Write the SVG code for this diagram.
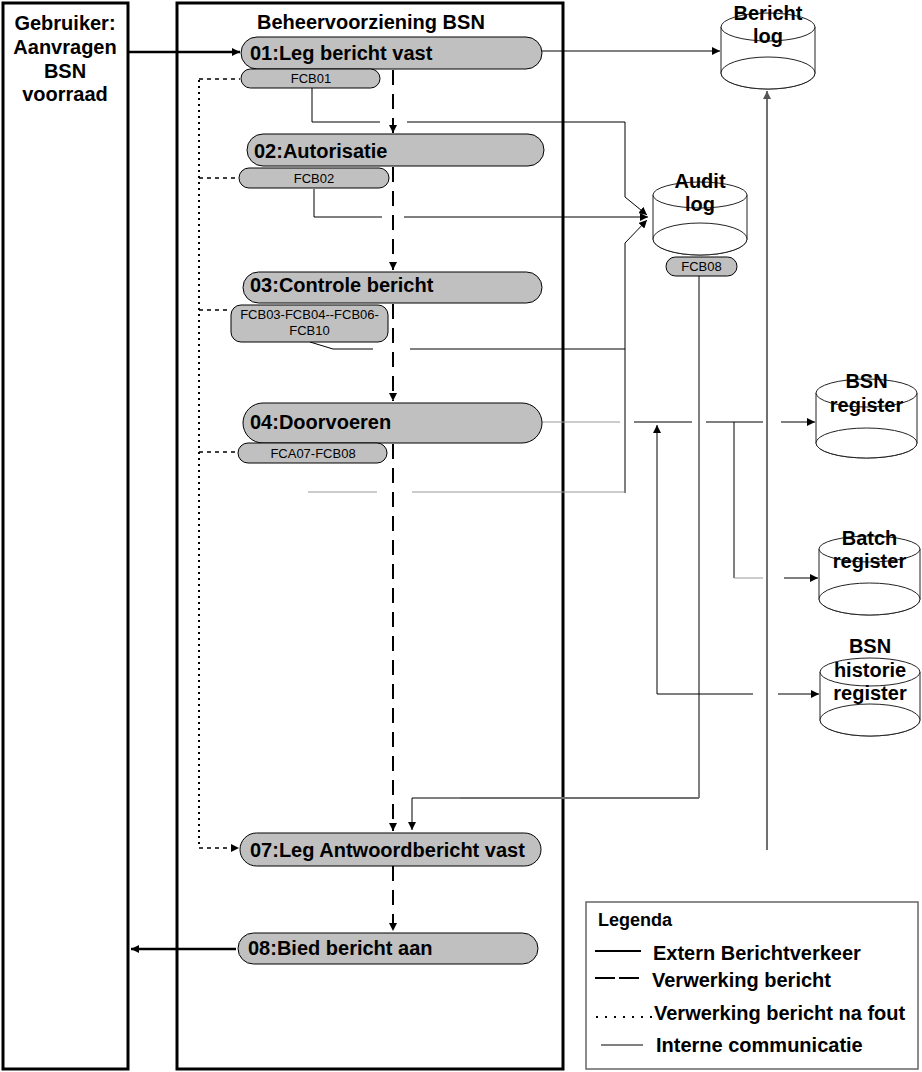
<svg xmlns="http://www.w3.org/2000/svg" width="922" height="1072" viewBox="0 0 922 1072">
<defs>
<marker id="arr" markerUnits="userSpaceOnUse" markerWidth="9" markerHeight="8" refX="8" refY="4" orient="auto">
<path d="M0,0 L8,4 L0,8 z" fill="#000"/>
</marker>
<marker id="arrg" markerUnits="userSpaceOnUse" markerWidth="9" markerHeight="8" refX="8" refY="4" orient="auto">
<path d="M0,0 L8,4 L0,8 z" fill="#555"/>
</marker>
<style>
text{font-family:"Liberation Sans",Arial,sans-serif;fill:#000}
.b{font-weight:bold;font-size:20px}
.s{font-size:13px}
.node{fill:#c0c0c0;stroke:#000;stroke-width:1}
.pill{fill:#c0c0c0;stroke:#000;stroke-width:1}
.lane{fill:#fff;stroke:#000;stroke-width:3}
.cyl{fill:#fff;stroke:#222;stroke-width:1}
.ext{fill:none;stroke:#000;stroke-width:2.5}
.proc{fill:none;stroke:#000;stroke-width:2;stroke-dasharray:15 9}
.dot{fill:none;stroke:#000;stroke-width:2;stroke-dasharray:2 4}
.dash{fill:none;stroke:#000;stroke-width:1.5;stroke-dasharray:4 4}
.int{fill:none;stroke:#000;stroke-width:1}
.intg{fill:none;stroke:#999;stroke-width:1}
.grey{fill:none;stroke:#707070;stroke-width:2}
</style>
</defs>
<rect width="922" height="1072" fill="#fff"/>

<g id="lane-gebruiker">
<rect class="lane" x="3" y="3" width="125" height="1066"/>
<text class="b" x="65" y="30" text-anchor="middle">Gebruiker:</text>
<text class="b" x="65" y="54" text-anchor="middle">Aanvragen</text>
<text class="b" x="65" y="78" text-anchor="middle">BSN</text>
<text class="b" x="65" y="101" text-anchor="middle">voorraad</text>
</g>

<g id="lane-beheer">
<rect class="lane" x="177" y="3" width="386" height="1066"/>
<text class="b" x="257" y="29">Beheervoorziening BSN</text>
</g>

<g id="connectors">
<path class="ext" d="M128,52 H240" marker-end="url(#arr)"/>
<path class="ext" d="M236,949 H131" stroke-width="2" marker-end="url(#arr)"/>
<path class="proc" d="M393,70 V133" marker-end="url(#arr)"/>
<path class="proc" d="M393,167 V270" marker-end="url(#arr)"/>
<path class="proc" d="M393,304 V401" marker-end="url(#arr)"/>
<path class="proc" d="M393,444 V831" marker-end="url(#arr)"/>
<path class="proc" d="M393,866 V931" marker-end="url(#arr)"/>
<path class="dot" d="M199,80 V848"/>
<path class="dash" d="M199,79 H240"/>
<path class="dash" d="M199,178 H238"/>
<path class="dash" d="M199,310 H231"/>
<path class="dash" d="M199,452 H238"/>
<path class="dash" d="M199,848 H239" marker-end="url(#arr)"/>
<path class="int" d="M312,88 V122 H380"/>
<path class="int" d="M407,122 H625 V197 L647,215" marker-end="url(#arr)"/>
<path class="int" d="M314,189 V217 H382"/>
<path class="int" d="M404,217 H648" marker-end="url(#arr)"/>
<path class="int" d="M310,342 L333,349 H373"/>
<path class="int" d="M410,349 H625"/>
<path class="int" d="M625,493 V243 L647,220" marker-end="url(#arr)"/>
<path class="intg" d="M308,492 H377"/>
<path class="intg" d="M412,492 H625"/>
<path class="int" d="M542,51 H720" marker-end="url(#arr)"/>
<path class="intg" d="M542,422 H620"/>
<path class="int" d="M634,422 H692"/>
<path class="int" d="M706,422 H763"/>
<path class="int" d="M781,422 H815" marker-end="url(#arr)"/>
<path class="int" d="M657,694 V425" marker-end="url(#arr)"/>
<path class="int" d="M657,694 H753"/>
<path class="int" d="M778,694 H819" marker-end="url(#arr)"/>
<path class="int" d="M734,422 V578"/>
<path class="intg" d="M734,578 H763"/>
<path class="int" d="M784,578 H818" marker-end="url(#arr)"/>
<path class="int" d="M699,276 V798" stroke-width="1.3"/>
<path class="grey" d="M699,798 H460" stroke-width="1.6"/>
<path class="int" d="M460,798 H412 V830" marker-end="url(#arr)"/>
<path class="grey" d="M767,850 V91" marker-end="url(#arrg)"/>
</g>

<g id="n01">
<rect class="node" x="241" y="37" width="301" height="32" rx="16"/>
<text class="b" x="250" y="60">01:Leg bericht vast</text>
</g>
<g id="fcb01">
<rect class="pill" x="241" y="69" width="139" height="19" rx="9.5"/>
<text class="s" x="311" y="83" text-anchor="middle">FCB01</text>
</g>
<g id="n02">
<rect class="node" x="247" y="134" width="297" height="32" rx="16"/>
<text class="b" x="254" y="158">02:Autorisatie</text>
</g>
<g id="fcb02">
<rect class="pill" x="239" y="168" width="150" height="20" rx="10"/>
<text class="s" x="314" y="183" text-anchor="middle">FCB02</text>
</g>
<g id="n03">
<rect class="node" x="243" y="272" width="299" height="31" rx="15.5"/>
<text class="b" x="250" y="292">03:Controle bericht</text>
</g>
<g id="fcb03">
<rect class="pill" x="231" y="305" width="157" height="37" rx="10"/>
<text class="s" x="309.5" y="319" text-anchor="middle">FCB03-FCB04--FCB06-</text>
<text class="s" x="309.5" y="335" text-anchor="middle">FCB10</text>
</g>
<g id="n04">
<rect class="node" x="243" y="403" width="299" height="40" rx="20"/>
<text class="b" x="250" y="429">04:Doorvoeren</text>
</g>
<g id="fca07">
<rect class="pill" x="238" y="443" width="149" height="20" rx="10"/>
<text class="s" x="313" y="458" text-anchor="middle">FCA07-FCB08</text>
</g>
<g id="n07">
<rect class="node" x="240" y="833" width="301" height="33" rx="16.5"/>
<text class="b" x="250" y="857">07:Leg Antwoordbericht vast</text>
</g>
<g id="n08">
<rect class="node" x="238" y="933" width="300" height="31" rx="15.5"/>
<text class="b" x="248" y="955">08:Bied bericht aan</text>
</g>

<g id="bericht-log">
<path class="cyl" d="M721,27 V73 A47,16 0 0 0 815,73 V27"/>
<ellipse class="cyl" cx="768" cy="73" rx="47" ry="16" fill="none"/>
<ellipse class="cyl" cx="768" cy="27" rx="47" ry="14"/>
<text class="b" x="768" y="20" text-anchor="middle">Bericht</text>
<text class="b" x="768" y="43" text-anchor="middle">log</text>
</g>
<g id="audit-log">
<path class="cyl" d="M653,195 V239 A47,16 0 0 0 747,239 V195"/>
<ellipse class="cyl" cx="700" cy="239" rx="47" ry="16" fill="none"/>
<ellipse class="cyl" cx="700" cy="195" rx="47" ry="13"/>
<text class="b" x="700" y="188" text-anchor="middle">Audit</text>
<text class="b" x="700" y="211" text-anchor="middle">log</text>
</g>
<g id="fcb08">
<rect class="pill" x="666" y="257" width="71" height="19" rx="9.5"/>
<text class="s" x="701.5" y="271" text-anchor="middle">FCB08</text>
</g>
<g id="bsn-register">
<path class="cyl" d="M816,393 V443 A50.5,15 0 0 0 917,443 V393"/>
<ellipse class="cyl" cx="866.5" cy="443" rx="50.5" ry="15" fill="none"/>
<ellipse class="cyl" cx="866.5" cy="393" rx="50.5" ry="14"/>
<text class="b" x="866.5" y="388" text-anchor="middle">BSN</text>
<text class="b" x="866.5" y="412" text-anchor="middle">register</text>
</g>
<g id="batch-register">
<path class="cyl" d="M819,549 V599 A50.5,16 0 0 0 920,599 V549"/>
<ellipse class="cyl" cx="869.5" cy="599" rx="50.5" ry="16" fill="none"/>
<ellipse class="cyl" cx="869.5" cy="549" rx="50.5" ry="13"/>
<text class="b" x="869.5" y="545" text-anchor="middle">Batch</text>
<text class="b" x="869.5" y="568" text-anchor="middle">register</text>
</g>
<g id="bsn-historie-register">
<path class="cyl" d="M820,672 V720 A50,16 0 0 0 920,720 V672"/>
<ellipse class="cyl" cx="870" cy="720" rx="50" ry="16" fill="none"/>
<ellipse class="cyl" cx="870" cy="672" rx="50" ry="14"/>
<text class="b" x="870" y="653" text-anchor="middle">BSN</text>
<text class="b" x="870" y="677" text-anchor="middle">historie</text>
<text class="b" x="870" y="700" text-anchor="middle">register</text>
</g>

<g id="legenda">
<rect x="586" y="902" width="332" height="167" fill="#fff" stroke="#666" stroke-width="1.5"/>
<text x="598" y="926" font-size="18" font-weight="bold">Legenda</text>
<path d="M595,951 H641" stroke="#000" stroke-width="2" fill="none"/>
<text class="b" x="653" y="960" font-size="19">Extern Berichtverkeer</text>
<path d="M595,978 H641" stroke="#000" stroke-width="2" stroke-dasharray="20 4" fill="none"/>
<text class="b" x="652" y="987" font-size="19">Verwerking bericht</text>
<path d="M596,1017 H652" stroke="#000" stroke-width="2" stroke-dasharray="2 7" fill="none"/>
<text class="b" x="654" y="1020" font-size="19">Verwerking bericht na fout</text>
<path d="M601,1045 H643" stroke="#000" stroke-width="1" fill="none"/>
<text class="b" x="656" y="1052" font-size="19">Interne communicatie</text>
</g>
</svg>
